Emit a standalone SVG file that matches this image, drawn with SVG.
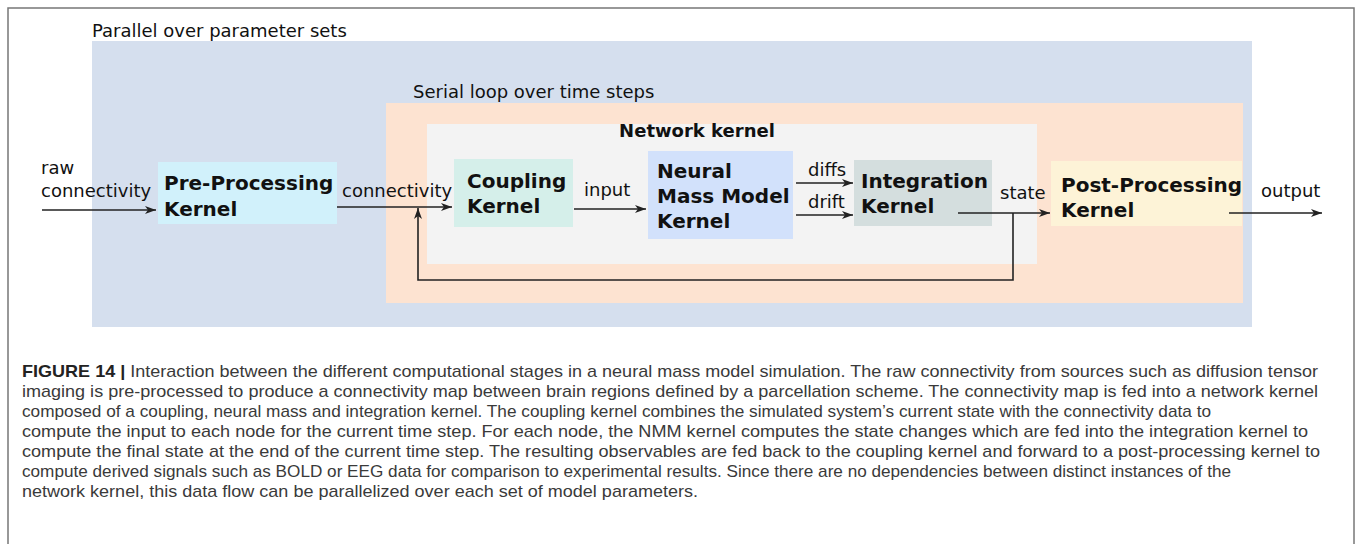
<svg xmlns="http://www.w3.org/2000/svg" width="1358" height="544" viewBox="0 0 1358 544">
<style>
.lbl{font-family:"DejaVu Sans",sans-serif;font-size:18px;fill:#111}
.bx{font-family:"DejaVu Sans",sans-serif;font-size:20px;font-weight:bold;fill:#111}
.ttl{font-family:"DejaVu Sans",sans-serif;font-size:18px;font-weight:bold;fill:#111}
.cap{font-family:"Liberation Sans",Arial,sans-serif;font-size:17px;fill:#3a3a3a}
.conn{fill:none;stroke:#222;stroke-width:1.6}
</style>
<defs>
<marker id="ah" markerUnits="userSpaceOnUse" viewBox="-12 -5 13 10" refX="0" refY="0" markerWidth="13" markerHeight="10" orient="auto">
<path d="M0,0 L-11,-4 L-8,0 L-11,4 Z" fill="#222"/>
</marker>
</defs>
<rect x="0" y="0" width="1358" height="544" fill="#fff"/>
<rect x="8" y="8" width="1346" height="560" fill="#fff" stroke="#777" stroke-width="1.5"/>

<g id="parallel">
<rect x="92" y="41" width="1160" height="286" fill="#d5dfee"/>
<text class="lbl" x="92" y="37">Parallel over parameter sets</text>
</g>
<g id="serial">
<rect x="386" y="103" width="857" height="200" fill="#fde3d1"/>
<text class="lbl" x="413" y="98">Serial loop over time steps</text>
</g>
<g id="network">
<rect x="427" y="124" width="610" height="140" fill="#f3f3f3"/>
<text class="ttl" x="697" y="137" text-anchor="middle">Network kernel</text>
</g>

<g id="pre">
<rect x="158" y="162" width="179" height="62" fill="#d1f1fb"/>
<text class="bx" x="164" y="190">Pre-Processing</text>
<text class="bx" x="164" y="216">Kernel</text>
</g>
<g id="coupling">
<rect x="454" y="159" width="119" height="68" fill="#d5efea"/>
<text class="bx" x="467" y="188">Coupling</text>
<text class="bx" x="467" y="213">Kernel</text>
</g>
<g id="nmm">
<rect x="648" y="151" width="145" height="88" fill="#d2e1fb"/>
<text class="bx" x="657" y="178">Neural</text>
<text class="bx" x="657" y="203">Mass Model</text>
<text class="bx" x="657" y="228">Kernel</text>
</g>
<g id="integration">
<rect x="854" y="160" width="138" height="66" fill="#d4dede"/>
<text class="bx" x="861" y="188">Integration</text>
<text class="bx" x="861" y="213">Kernel</text>
</g>
<g id="post">
<rect x="1051" y="161" width="191" height="65" fill="#fdf3d7"/>
<text class="bx" x="1061" y="192">Post-Processing</text>
<text class="bx" x="1061" y="217">Kernel</text>
</g>

<g id="connectors">
<path class="conn" d="M42,210 H156" marker-end="url(#ah)"/>
<path class="conn" d="M337,207 H452" marker-end="url(#ah)"/>
<path class="conn" d="M574,209 H646" marker-end="url(#ah)"/>
<path class="conn" d="M796,183 H853" marker-end="url(#ah)"/>
<path class="conn" d="M796,215 H853" marker-end="url(#ah)"/>
<path class="conn" d="M958,213 H1050" marker-end="url(#ah)"/>
<path class="conn" d="M1229,213 H1322" marker-end="url(#ah)"/>
<path class="conn" d="M1013,213 V280 H418 V208" marker-end="url(#ah)"/>
<text class="lbl" x="41" y="174">raw</text>
<text class="lbl" x="41" y="197">connectivity</text>
<text class="lbl" x="342" y="197">connectivity</text>
<text class="lbl" x="584" y="196">input</text>
<text class="lbl" x="808" y="176">diffs</text>
<text class="lbl" x="808" y="208">drift</text>
<text class="lbl" x="1000" y="199">state</text>
<text class="lbl" x="1261" y="197">output</text>
</g>

<g id="caption">
<text class="cap" x="22" y="377" textLength="1296" lengthAdjust="spacingAndGlyphs"><tspan font-weight="bold" fill="#222">FIGURE 14 | </tspan>Interaction between the different computational stages in a neural mass model simulation. The raw connectivity from sources such as diffusion tensor</text>
<text class="cap" x="22" y="397" textLength="1296" lengthAdjust="spacingAndGlyphs">imaging is pre-processed to produce a connectivity map between brain regions defined by a parcellation scheme. The connectivity map is fed into a network kernel</text>
<text class="cap" x="22" y="417" textLength="1189" lengthAdjust="spacingAndGlyphs">composed of a coupling, neural mass and integration kernel. The coupling kernel combines the simulated system’s current state with the connectivity data to</text>
<text class="cap" x="22" y="437" textLength="1286" lengthAdjust="spacingAndGlyphs">compute the input to each node for the current time step. For each node, the NMM kernel computes the state changes which are fed into the integration kernel to</text>
<text class="cap" x="22" y="457" textLength="1298" lengthAdjust="spacingAndGlyphs">compute the final state at the end of the current time step. The resulting observables are fed back to the coupling kernel and forward to a post-processing kernel to</text>
<text class="cap" x="22" y="477" textLength="1209" lengthAdjust="spacingAndGlyphs">compute derived signals such as BOLD or EEG data for comparison to experimental results. Since there are no dependencies between distinct instances of the</text>
<text class="cap" x="22" y="497" textLength="676" lengthAdjust="spacingAndGlyphs">network kernel, this data flow can be parallelized over each set of model parameters.</text>
</g>
</svg>
